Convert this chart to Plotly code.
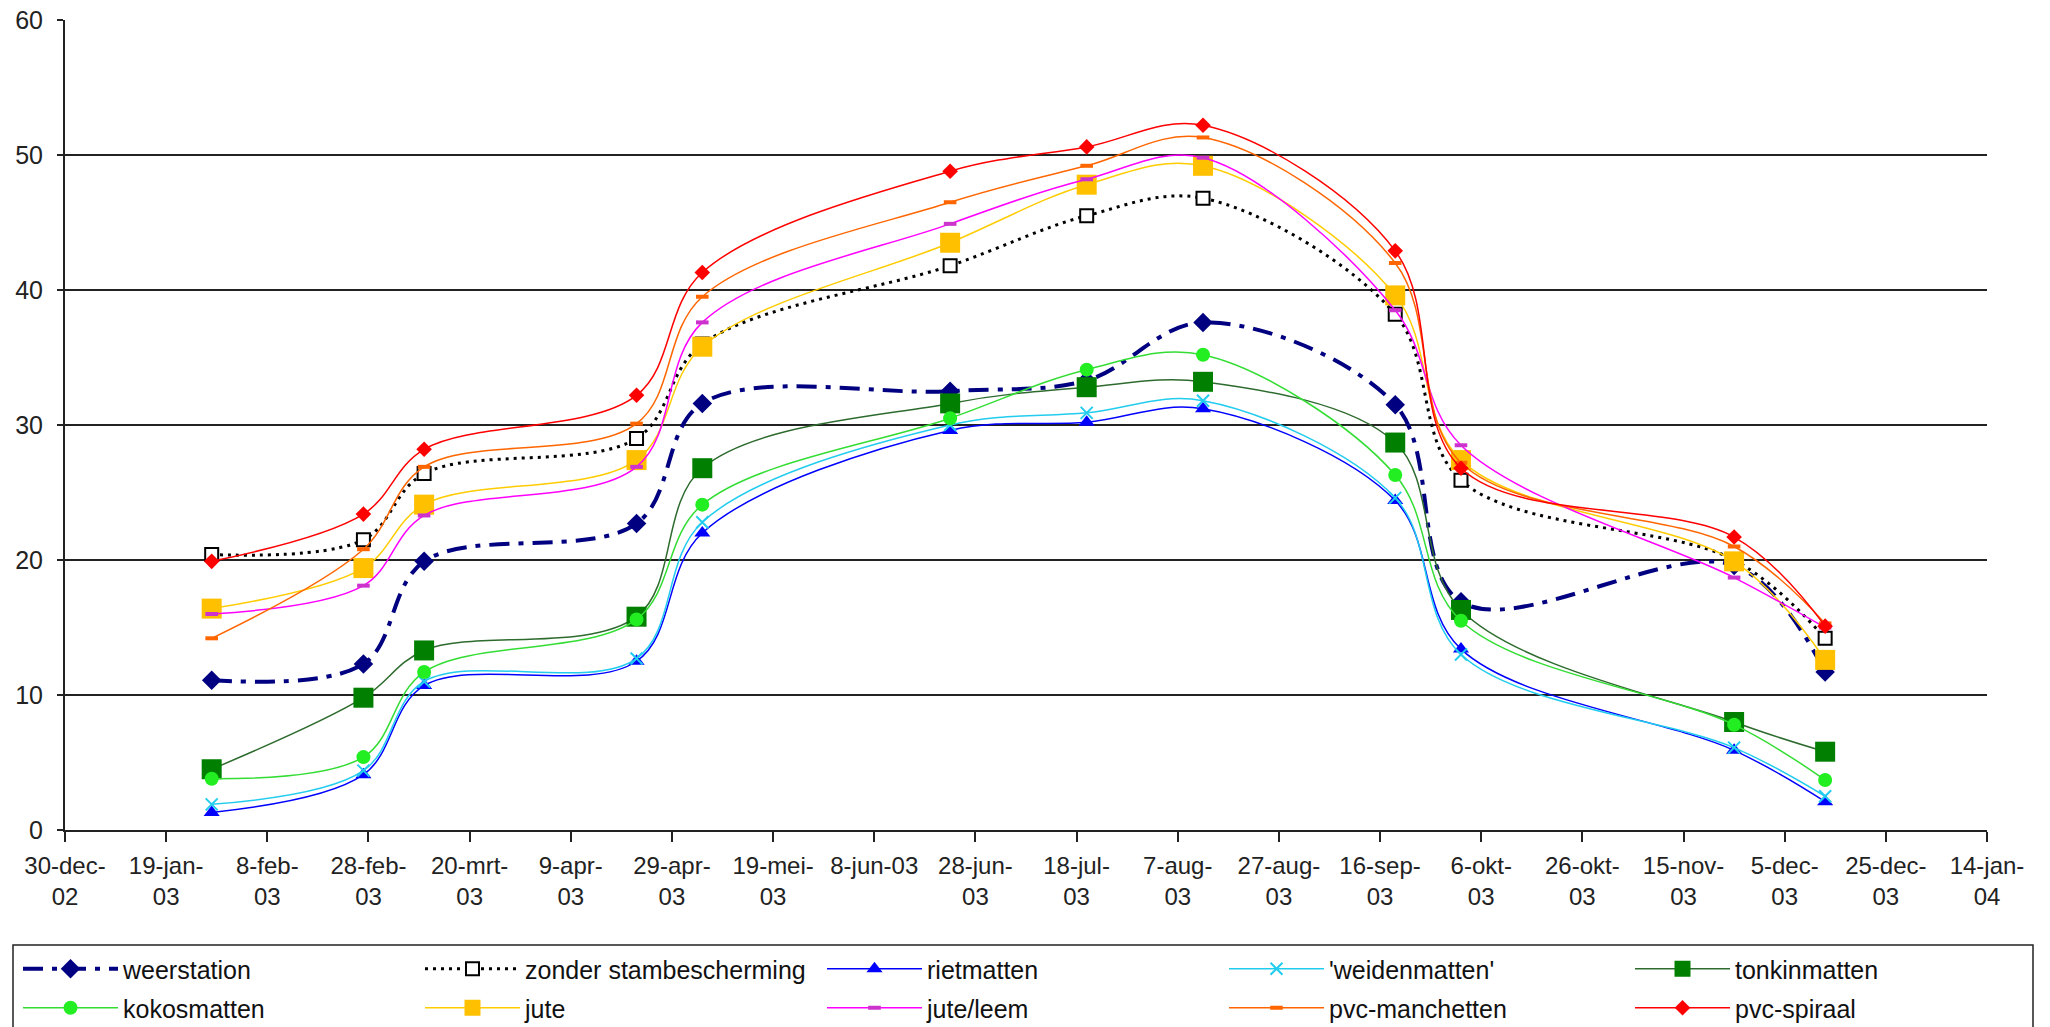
import plotly.graph_objects as go
import pandas as pd

# ---- data ----
dates = ['2003-01-28', '2003-02-27', '2003-03-11', '2003-04-22', '2003-05-05', '2003-06-23',
         '2003-07-20', '2003-08-12', '2003-09-19', '2003-10-02', '2003-11-25', '2003-12-13']

weerstation = [11.1, 12.3, 19.9, 22.7, 31.6, 32.5, 33.3, 37.6, 31.5, 16.9, 19.6, 11.7]
zonder_stambescherming = [20.4, 21.5, 26.4, 29.0, 36.0, 41.8, 45.5, 46.8, 38.2, 25.9, 20.0, 14.2]
rietmatten = [1.3, 4.1, 10.7, 12.5, 22.0, 29.6, 30.2, 31.2, 24.4, 13.4, 5.9, 2.1]
weidenmatten = [1.9, 4.4, 11.0, 12.7, 22.8, 30.0, 30.9, 31.8, 24.6, 13.0, 6.1, 2.5]
tonkinmatten = [4.5, 9.8, 13.3, 15.8, 26.8, 31.6, 32.8, 33.2, 28.7, 16.3, 8.0, 5.8]
kokosmatten = [3.8, 5.4, 11.7, 15.6, 24.1, 30.5, 34.1, 35.2, 26.3, 15.5, 7.8, 3.7]
jute = [16.4, 19.4, 24.1, 27.4, 35.8, 43.5, 47.8, 49.2, 39.6, 27.4, 19.9, 12.6]
jute_leem = [16.0, 18.1, 23.3, 26.9, 37.6, 44.9, 48.2, 49.8, 38.5, 28.5, 18.7, 15.0]
pvc_manchetten = [14.2, 20.8, 26.9, 30.1, 39.5, 46.5, 49.2, 51.3, 42.0, 27.2, 21.0, 15.3]
pvc_spiraal = [19.9, 23.4, 28.2, 32.2, 41.3, 48.8, 50.6, 52.2, 42.9, 26.8, 21.7, 15.1]

tick_labels = ['30-dec-<br>02', '19-jan-<br>03', '8-feb-<br>03', '28-feb-<br>03', '20-mrt-<br>03',
               '9-apr-<br>03', '29-apr-<br>03', '19-mei-<br>03', '8-jun-03', '28-jun-<br>03',
               '18-jul-<br>03', '7-aug-<br>03', '27-aug-<br>03', '16-sep-<br>03', '6-okt-<br>03',
               '26-okt-<br>03', '15-nov-<br>03', '5-dec-<br>03', '25-dec-<br>03', '14-jan-<br>04']

y_ticks = [0, 10, 20, 30, 40, 50, 60]

# ---- styling ----
FONT = 'Liberation Sans, Arial, sans-serif'
# legend ids: rows 1/2, columns 1-4 in legend/legend2, column 5 in legend3/legend4
series = [
    ('weerstation', weerstation, dict(color='#000080', width=4, dash='20px,9px,5px,9px'),
     dict(symbol='diamond', size=15, color='#000080'), 'legend'),
    ('zonder stambescherming', zonder_stambescherming, dict(color='#000000', width=3, dash='3px,5px'),
     dict(symbol='square', size=13, color='#ffffff', line=dict(color='#000000', width=2)), 'legend'),
    ('rietmatten', rietmatten, dict(color='#0000FF', width=1.5),
     dict(symbol='triangle-up', size=14, color='#0000FF'), 'legend'),
    ("'weidenmatten'", weidenmatten, dict(color='#22CCEE', width=1.5),
     dict(symbol='x-thin', size=12, color='#22CCEE', line=dict(color='#22CCEE', width=2)), 'legend'),
    ('tonkinmatten', tonkinmatten, dict(color='#2E6B2E', width=1.5),
     dict(symbol='square', size=20, color='#007F00'), 'legend3'),
    ('kokosmatten', kokosmatten, dict(color='#33DD33', width=1.5),
     dict(symbol='circle', size=14, color='#22EE22'), 'legend2'),
    ('jute', jute, dict(color='#FFCC00', width=1.5),
     dict(symbol='square', size=20, color='#FFC000'), 'legend2'),
    ('jute/leem', jute_leem, dict(color='#FF00FF', width=1.5),
     dict(symbol='line-ew', size=9, color='#CC33CC', line=dict(color='#CC33CC', width=4)), 'legend2'),
    ('pvc-manchetten', pvc_manchetten, dict(color='#FF6600', width=1.5),
     dict(symbol='line-ew', size=9, color='#FF6600', line=dict(color='#FF6600', width=4)), 'legend2'),
    ('pvc-spiraal', pvc_spiraal, dict(color='#FF0000', width=1.5),
     dict(symbol='diamond', size=12, color='#FF0000'), 'legend4'),
]

fig = go.Figure()
for name, yvals, line, marker, leg in series:
    fig.add_trace(go.Scatter(
        x=dates, y=yvals, name=name, mode='lines+markers',
        line=dict(shape='spline', smoothing=1.0, **line),
        marker=marker, legend=leg, hoverinfo='x+y+name'))

tick_dates = pd.date_range('2002-12-30', periods=len(tick_labels), freq='20D')

W, H = 2050, 1027
ML, MR, MT, MB = 65, 63, 20, 197
pw, ph = W - ML - MR, H - MT - MB

def px_to_paper_x(px):
    return (px - ML) / pw

def px_to_paper_y(py):
    return (H - MB - py) / ph

leg_common = dict(orientation='h', xanchor='left', yanchor='middle',
                  bgcolor='rgba(0,0,0,0)', borderwidth=0,
                  font=dict(family=FONT, size=25, color='#111111'),
                  itemwidth=95, entrywidth=292, entrywidthmode='pixels',
                  itemclick=False, itemdoubleclick=False)

LEG_X0, COL_STEP = 18, 403
ROW1, ROW2 = 969, 1008

fig.update_layout(
    width=W, height=H,
    margin=dict(l=ML, r=MR, t=MT, b=MB, pad=0, autoexpand=False),
    paper_bgcolor='white', plot_bgcolor='white',
    font=dict(family=FONT, size=24, color='#222222'),
    showlegend=True,
    legend=dict(x=px_to_paper_x(LEG_X0), y=px_to_paper_y(ROW1), **leg_common),
    legend2=dict(x=px_to_paper_x(LEG_X0), y=px_to_paper_y(ROW2), **leg_common),
    legend3=dict(x=px_to_paper_x(LEG_X0 + 4 * COL_STEP), y=px_to_paper_y(ROW1), **leg_common),
    legend4=dict(x=px_to_paper_x(LEG_X0 + 4 * COL_STEP), y=px_to_paper_y(ROW2), **leg_common),
    xaxis=dict(type='date', range=['2002-12-30', '2004-01-14'],
               tickvals=tick_dates, ticktext=tick_labels,
               showgrid=False, zeroline=False,
               showline=True, linecolor='#222222', linewidth=2,
               ticks='outside', ticklen=10, tickwidth=1.5, tickcolor='#222222',
               ticklabelstandoff=3,
               tickfont=dict(family=FONT, size=24, color='#222222')),
    yaxis=dict(range=[0, 60], tickvals=y_ticks,
               showgrid=True, gridcolor='#222222', gridwidth=1.6,
               zeroline=False, showline=True, linecolor='#222222', linewidth=2,
               ticks='outside', ticklen=6, tickwidth=1.5, tickcolor='#222222',
               ticklabelstandoff=9,
               tickfont=dict(family=FONT, size=25, color='#222222')),
    shapes=[dict(type='rect', xref='paper', yref='paper',
                 x0=px_to_paper_x(13), x1=px_to_paper_x(2033),
                 y0=px_to_paper_y(1040), y1=px_to_paper_y(945),
                 line=dict(color='#222222', width=1.5), fillcolor='rgba(0,0,0,0)',
                 layer='above')],
)

fig.write_html('out.html', config={'displayModeBar': False},
               post_script="document.body.style.margin='0';document.body.style.overflow='hidden';")
